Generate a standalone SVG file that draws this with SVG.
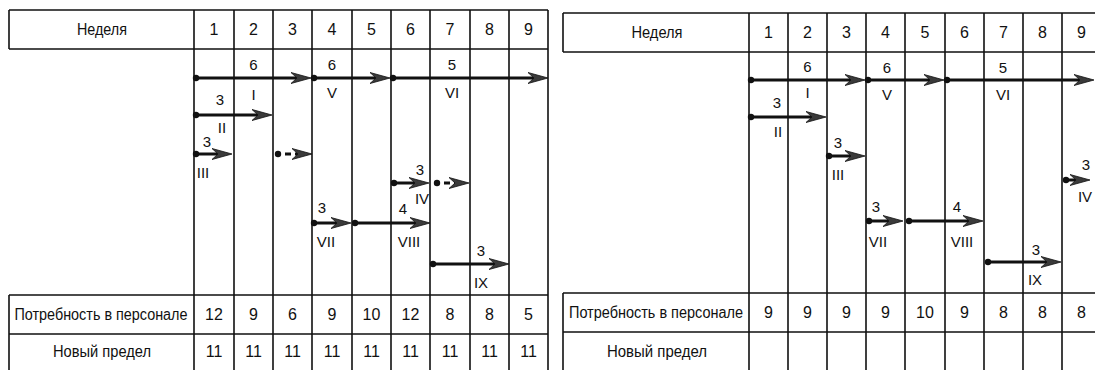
<svg xmlns="http://www.w3.org/2000/svg" width="1095" height="370" viewBox="0 0 1095 370">
<style>
.bg{fill:#fff}
.g{stroke:#111;stroke-width:1.6;fill:none}
.t{font-family:"Liberation Sans Narrow","Liberation Sans",Arial,sans-serif;font-size:16px;fill:#111;text-anchor:middle}
.s{font-family:"Liberation Sans Narrow","Liberation Sans",Arial,sans-serif;font-size:15px;fill:#111;text-anchor:middle}
.a{stroke:#111;stroke-width:3;fill:none;marker-end:url(#ah)}
.d{stroke:#111;stroke-width:3;fill:none;stroke-dasharray:6 4;marker-end:url(#ah)}
.p{fill:#111}
</style>
<defs>
<marker id="ah" viewBox="0 0 20 12" markerWidth="20" markerHeight="12" refX="10" refY="6" orient="auto" markerUnits="userSpaceOnUse">
<path d="M0,0.5 L20,6 L0,11.5 L6,6 Z" fill="#3a3a3a" stroke="#111" stroke-width="0.8"/>
</marker>
</defs>
<rect class="bg" x="0" y="0" width="1095" height="370"/>

<!-- LEFT TABLE -->
<g id="table-left">
<path class="g" d="M9,10 H548 M9,49 H548 M9,10 V49 M9,295 V370 M9,295 H548 M9,334 H548"/>
<path class="g" d="M194,10 V370 M234,10 V370 M273,10 V370 M312,10 V370 M352,10 V370 M391,10 V370 M430,10 V370 M470,10 V370 M509,10 V370 M548,10 V370"/>
<text class="t" x="102" y="35" textLength="50" lengthAdjust="spacingAndGlyphs">Неделя</text>
<text class="t" x="214" y="35">1</text><text class="t" x="253.5" y="35">2</text><text class="t" x="292.5" y="35">3</text>
<text class="t" x="332" y="35">4</text><text class="t" x="371.5" y="35">5</text><text class="t" x="410.5" y="35">6</text>
<text class="t" x="450" y="35">7</text><text class="t" x="489.5" y="35">8</text><text class="t" x="528.5" y="35">9</text>
<text class="t" x="101" y="320" textLength="173" lengthAdjust="spacingAndGlyphs">Потребность в персонале</text>
<text class="t" x="214" y="320">12</text><text class="t" x="253.5" y="320">9</text><text class="t" x="292.5" y="320">6</text>
<text class="t" x="332" y="320">9</text><text class="t" x="371.5" y="320">10</text><text class="t" x="410.5" y="320">12</text>
<text class="t" x="450" y="320">8</text><text class="t" x="489.5" y="320">8</text><text class="t" x="528.5" y="320">5</text>
<text class="t" x="102" y="357" textLength="98" lengthAdjust="spacingAndGlyphs">Новый предел</text>
<text class="t" x="214" y="357">11</text><text class="t" x="253.5" y="357">11</text><text class="t" x="292.5" y="357">11</text>
<text class="t" x="332" y="357">11</text><text class="t" x="371.5" y="357">11</text><text class="t" x="410.5" y="357">11</text>
<text class="t" x="450" y="357">11</text><text class="t" x="489.5" y="357">11</text><text class="t" x="528.5" y="357">11</text>
</g>

<!-- RIGHT TABLE -->
<g id="table-right">
<path class="g" d="M563,13 H1095 M563,52 H1095 M563,13 V52 M563,293 V370 M563,293 H1095 M563,332 H1095"/>
<path class="g" d="M749,13 V370 M788,13 V370 M827,13 V370 M866,13 V370 M905,13 V370 M945,13 V370 M984,13 V370 M1023,13 V370 M1062,13 V370"/>
<text class="t" x="657" y="38" textLength="51" lengthAdjust="spacingAndGlyphs">Неделя</text>
<text class="t" x="768.5" y="38">1</text><text class="t" x="807.5" y="38">2</text><text class="t" x="846.5" y="38">3</text>
<text class="t" x="885.5" y="38">4</text><text class="t" x="925" y="38">5</text><text class="t" x="964.5" y="38">6</text>
<text class="t" x="1003.5" y="38">7</text><text class="t" x="1042.5" y="38">8</text><text class="t" x="1081.5" y="38">9</text>
<text class="t" x="656" y="318" textLength="174" lengthAdjust="spacingAndGlyphs">Потребность в персонале</text>
<text class="t" x="768.5" y="318">9</text><text class="t" x="807.5" y="318">9</text><text class="t" x="846.5" y="318">9</text>
<text class="t" x="885.5" y="318">9</text><text class="t" x="925" y="318">10</text><text class="t" x="964.5" y="318">9</text>
<text class="t" x="1003.5" y="318">8</text><text class="t" x="1042.5" y="318">8</text><text class="t" x="1081.5" y="318">8</text>
<text class="t" x="657" y="357" textLength="100" lengthAdjust="spacingAndGlyphs">Новый предел</text>
</g>

<!-- CONNECTORS (activity arrows) -->
<g id="connectors">
<!-- left -->
<g id="L-I"><circle class="p" cx="196" cy="78" r="3.2"/><line class="a" x1="196" y1="78" x2="301" y2="78"/></g>
<g id="L-V"><circle class="p" cx="314" cy="78" r="3.2"/><line class="a" x1="314" y1="78" x2="380" y2="78"/></g>
<g id="L-VI"><circle class="p" cx="393" cy="78" r="3.2"/><line class="a" x1="393" y1="78" x2="538" y2="78"/></g>
<g id="L-II"><circle class="p" cx="196" cy="115" r="3.2"/><line class="a" x1="196" y1="115" x2="262" y2="115"/></g>
<g id="L-III"><circle class="p" cx="196" cy="154" r="3.2"/><line class="a" x1="196" y1="154" x2="222" y2="154"/></g>
<g id="L-III-b"><circle class="p" cx="278" cy="154" r="3.2"/><line class="d" x1="285" y1="154" x2="302" y2="154"/></g>
<g id="L-IV"><circle class="p" cx="394" cy="183" r="3.2"/><line class="a" x1="394" y1="183" x2="419" y2="183"/></g>
<g id="L-IV-b"><circle class="p" cx="437" cy="183" r="3.2"/><line class="d" x1="444" y1="183" x2="459" y2="183"/></g>
<g id="L-VII"><circle class="p" cx="314" cy="223" r="3.2"/><line class="a" x1="314" y1="223" x2="341" y2="223"/></g>
<g id="L-VIII"><circle class="p" cx="355" cy="223" r="3.2"/><line class="a" x1="355" y1="223" x2="420" y2="223"/></g>
<g id="L-IX"><circle class="p" cx="433" cy="264" r="3.2"/><line class="a" x1="433" y1="264" x2="499" y2="264"/></g>
<!-- right -->
<g id="R-I"><circle class="p" cx="751" cy="80" r="3.2"/><line class="a" x1="751" y1="80" x2="855" y2="80"/></g>
<g id="R-V"><circle class="p" cx="868" cy="80" r="3.2"/><line class="a" x1="868" y1="80" x2="934" y2="80"/></g>
<g id="R-VI"><circle class="p" cx="947" cy="80" r="3.2"/><line class="a" x1="947" y1="80" x2="1084" y2="80"/></g>
<g id="R-II"><circle class="p" cx="751" cy="117" r="3.2"/><line class="a" x1="751" y1="117" x2="816" y2="117"/></g>
<g id="R-III"><circle class="p" cx="829" cy="156" r="3.2"/><line class="a" x1="829" y1="156" x2="855" y2="156"/></g>
<g id="R-IV"><circle class="p" cx="1066" cy="180" r="3.2"/><line class="a" x1="1066" y1="180" x2="1080" y2="180"/></g>
<g id="R-VII"><circle class="p" cx="869" cy="221" r="3.2"/><line class="a" x1="869" y1="221" x2="893" y2="221"/></g>
<g id="R-VIII"><circle class="p" cx="909" cy="221" r="3.2"/><line class="a" x1="909" y1="221" x2="973" y2="221"/></g>
<g id="R-IX"><circle class="p" cx="988" cy="262" r="3.2"/><line class="a" x1="988" y1="262" x2="1051" y2="262"/></g>
</g>

<!-- ACTIVITY LABELS -->
<g id="labels-left">
<text class="s" x="253.5" y="70">6</text><text class="s" x="253.5" y="100">I</text>
<text class="s" x="332" y="70">6</text><text class="s" x="332" y="98">V</text>
<text class="s" x="452" y="70">5</text><text class="s" x="452" y="98">VI</text>
<text class="s" x="220" y="105">3</text><text class="s" x="222" y="133">II</text>
<text class="s" x="207" y="147">3</text><text class="s" x="203" y="178">III</text>
<text class="s" x="420" y="175">3</text><text class="s" x="422" y="204">IV</text>
<text class="s" x="322" y="213">3</text><text class="s" x="326" y="247">VII</text>
<text class="s" x="403" y="214">4</text><text class="s" x="409" y="247">VIII</text>
<text class="s" x="481" y="256">3</text><text class="s" x="481" y="288">IX</text>
</g>
<g id="labels-right">
<text class="s" x="807.5" y="72">6</text><text class="s" x="807.5" y="98">I</text>
<text class="s" x="887" y="73">6</text><text class="s" x="887" y="100">V</text>
<text class="s" x="1003" y="73">5</text><text class="s" x="1003" y="100">VI</text>
<text class="s" x="777" y="108">3</text><text class="s" x="778" y="137">II</text>
<text class="s" x="838" y="148">3</text><text class="s" x="838" y="180">III</text>
<text class="s" x="1086" y="170">3</text><text class="s" x="1085" y="202">IV</text>
<text class="s" x="876" y="212">3</text><text class="s" x="878" y="247">VII</text>
<text class="s" x="957" y="212">4</text><text class="s" x="962" y="247">VIII</text>
<text class="s" x="1036" y="255">3</text><text class="s" x="1035" y="285">IX</text>
</g>
</svg>
